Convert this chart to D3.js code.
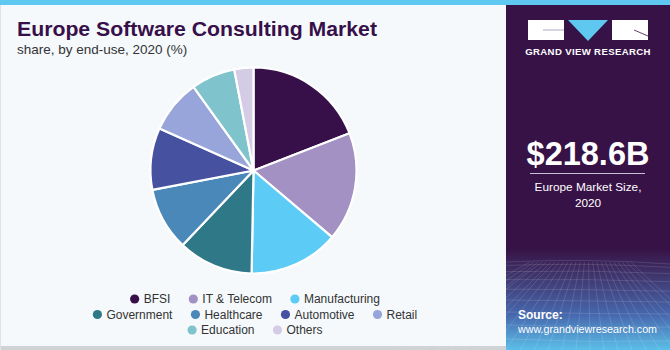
<!DOCTYPE html>
<html><head><meta charset="utf-8">
<script src="https://cdn.jsdelivr.net/npm/d3@7"></script>
<style>html,body{margin:0;padding:0;background:#f5f9fc;}svg{display:block;}</style>
</head><body>
<svg id="c" width="670" height="350"></svg>
<script>
const categories = ["BFSI","IT & Telecom","Manufacturing","Government","Healthcare","Automotive","Retail","Education","Others"];
const shares = [19.1,17.1,14.1,11.8,9.9,9.7,8.4,6.9,3.0];
const colors = ["#37104a","#a391c4","#5ccbf6","#2e7888","#4a88ba","#4651a0","#97a5da","#7fc4cc","#d4cbe4"];
const legendRows = [[0,1,2],[3,4,5,6],[7,8]];
const titleText = "Europe Software Consulting Market";
const subtitleText = "share, by end-use, 2020 (%)";
const marketSize = "$218.6B";
const marketLabel = ["Europe Market Size,","2020"];

const svg = d3.select("#c");
const font = "'Liberation Sans', Arial, sans-serif";

// backgrounds
svg.append("rect").attr("x",0).attr("y",0).attr("width",670).attr("height",350).attr("fill","#f5f9fc");
svg.append("rect").attr("x",0).attr("y",346).attr("width",506).attr("height",4).attr("fill","#d0d3d6");
svg.append("rect").attr("x",0).attr("y",0).attr("width",1).attr("height",350).attr("fill","#dde3e8");

// right panel
const defs = svg.append("defs");
const g1 = defs.append("linearGradient").attr("id","pg").attr("x1",0).attr("y1",0).attr("x2",0).attr("y2",1);
g1.append("stop").attr("offset","0").attr("stop-color","#371246");
g1.append("stop").attr("offset","0.71").attr("stop-color","#371246");
g1.append("stop").attr("offset","0.78").attr("stop-color","#3e3269");
g1.append("stop").attr("offset","0.9").attr("stop-color","#4768ae");
g1.append("stop").attr("offset","1").attr("stop-color","#5bbfe8");
svg.append("rect").attr("x",506).attr("y",0).attr("width",164).attr("height",350).attr("fill","url(#pg)");

// grid decoration
const grid = svg.append("g").attr("stroke","#ffffff").attr("stroke-opacity",0.16).attr("fill","none").attr("stroke-width",0.8);
for (let i=0;i<9;i++){
  const y = 262 + Math.pow(i,1.5)*3.4;
  grid.append("path").attr("d",`M506,${y} Q588,${y-4+i} 670,${y+2}`);
}
for (let i=-8;i<=16;i++){
  const xb = 506 + i*14;
  grid.append("path").attr("d",`M${588+(xb-588)*0.3},262 Q${588+(xb-588)*0.6},${300+(i%3)*3} ${xb},350`);
}

// top bar
svg.append("rect").attr("x",0).attr("y",0).attr("width",670).attr("height",5).attr("fill","#5ec8f0");

// logo
const logo = svg.append("g");
logo.append("rect").attr("x",528).attr("y",20).attr("width",36).attr("height",20).attr("fill","#fff");
logo.append("path").attr("d","M543,30 L564,30").attr("stroke","#9a8fb0").attr("stroke-width",0.8);
logo.append("path").attr("d","M568,20 L608,20 L588,41 Z").attr("fill","#5ec8f0");
logo.append("rect").attr("x",612).attr("y",20).attr("width",36).attr("height",20).attr("fill","#fff");
logo.append("path").attr("d","M634,30 L648,36").attr("stroke","#371246").attr("stroke-width",0.8);
logo.append("text").attr("x",588).attr("y",55).attr("text-anchor","middle").attr("fill","#fff")
  .attr("font-family",font).attr("font-weight","bold").attr("font-size",9.6).attr("letter-spacing",0.35).text("GRAND VIEW RESEARCH");

// market size
svg.append("text").attr("x",588).attr("y",165).attr("text-anchor","middle").attr("fill","#fff")
  .attr("font-family",font).attr("font-weight","bold").attr("font-size",32.5).text(marketSize);
svg.append("line").attr("x1",530).attr("x2",645).attr("y1",173.5).attr("y2",173.5).attr("stroke","#c9bfd6").attr("stroke-width",1);
marketLabel.forEach((t,i)=>{
  svg.append("text").attr("x",588).attr("y",191+i*16).attr("text-anchor","middle").attr("fill","#fff")
    .attr("font-family",font).attr("font-size",11.8).text(t);
});
svg.append("text").attr("x",518).attr("y",319).attr("fill","#fff").attr("font-family",font).attr("font-weight","bold").attr("font-size",12).text("Source:");
svg.append("text").attr("x",518).attr("y",333).attr("fill","#fff").attr("font-family",font).attr("font-size",10.7)
  .text("www.grandviewresearch.com");

// title
svg.append("text").attr("x",17).attr("y",36).attr("fill","#37104a").attr("font-family",font).attr("font-weight","bold").attr("font-size",21)
  .attr("textLength",360).attr("lengthAdjust","spacingAndGlyphs").text(titleText);
svg.append("text").attr("x",17).attr("y",54).attr("fill","#333").attr("font-family",font).attr("font-size",13.5).text(subtitleText);

// pie
const cx = 253.5, cy = 170.5, r = 103;
const pie = d3.pie().sort(null).value(d=>d)(shares);
const arc = d3.arc().innerRadius(0).outerRadius(r);
const color = d3.scaleOrdinal().domain(d3.range(categories.length)).range(colors);
svg.append("g").attr("transform",`translate(${cx},${cy})`)
  .selectAll("path").data(pie).join("path")
  .attr("d",arc).attr("fill",(d,i)=>color(i)).attr("stroke","#fff").attr("stroke-width",2.2).attr("stroke-linejoin","round");

// legend
const rowY = [299,314.5,330];
const legend = svg.append("g");
legendRows.forEach((row,ri)=>{
  const rg = legend.append("g");
  let x = 0;
  row.forEach(idx=>{
    rg.append("circle").attr("cx",x).attr("cy",rowY[ri]).attr("r",4.6).attr("fill",color(idx));
    const t = rg.append("text").attr("x",x+9).attr("y",rowY[ri]+4.3).attr("fill","#333")
      .attr("font-family",font).attr("font-size",12).text(categories[idx]);
    x = x + 9 + t.node().getComputedTextLength() + 23;
  });
  const bb = rg.node().getBBox();
  const shift = 255 - (bb.x + bb.width/2);
  rg.attr("transform",`translate(${shift},0)`);
});
</script>
</body></html>
